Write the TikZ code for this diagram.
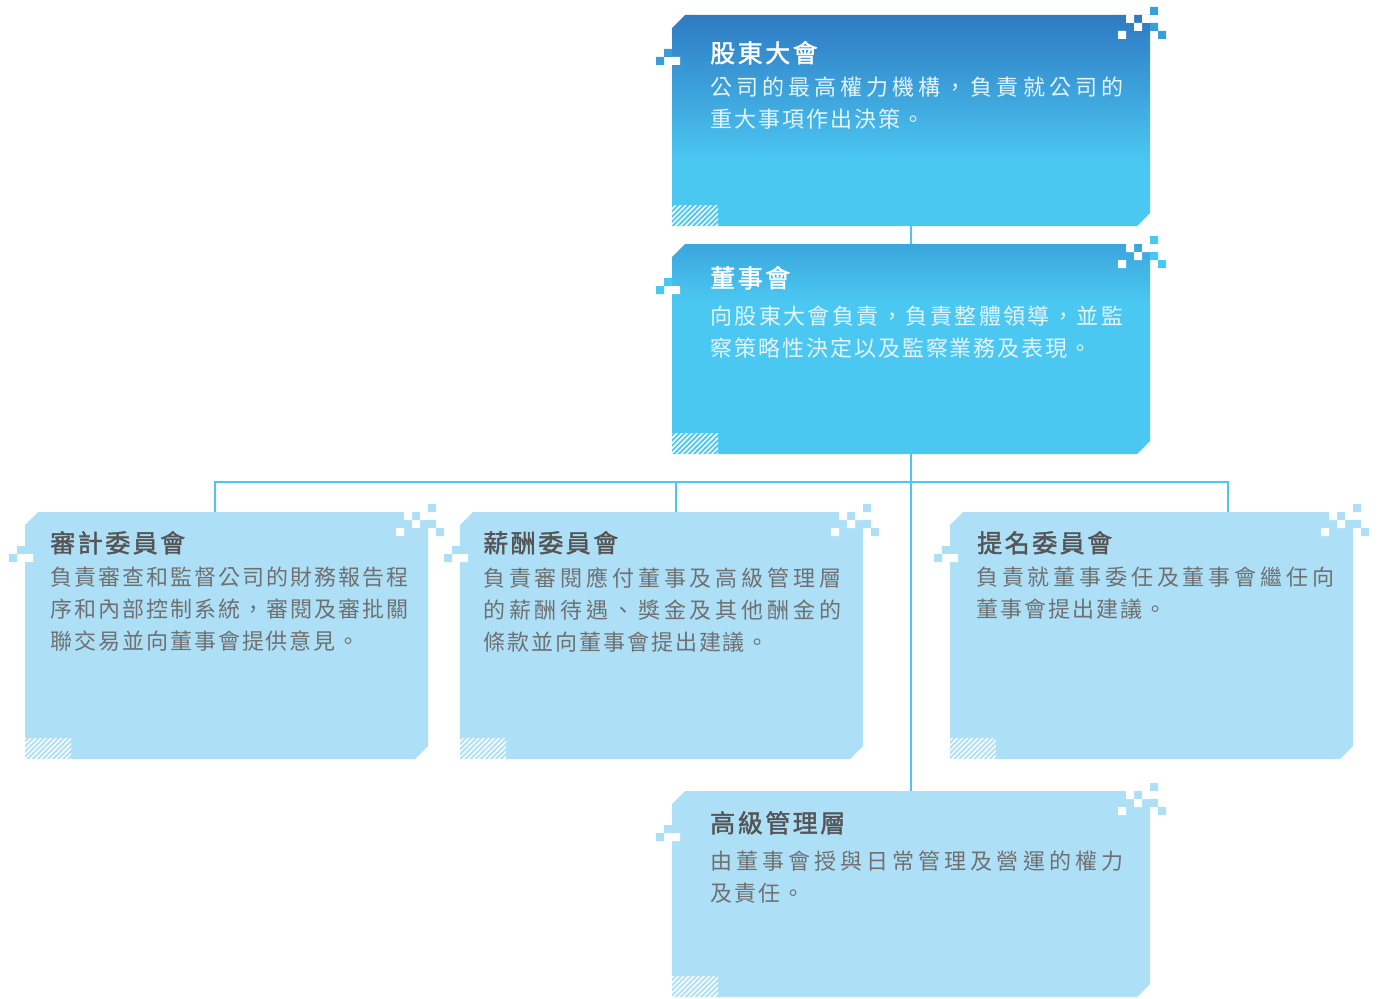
\documentclass[tikz,border=0pt]{standalone}
\usepackage{fontspec}
\setmainfont{Noto Sans CJK TC}
\usetikzlibrary{calc,patterns.meta}
\definecolor{DeepBlue}{RGB}{46,122,194}
\definecolor{MidBlue}{RGB}{59,166,221}
\definecolor{SkyBlue}{RGB}{75,200,242}
\definecolor{PaleBlue}{RGB}{173,224,247}
\definecolor{LinkBlue}{RGB}{77,198,240}
\definecolor{TitleGrey}{RGB}{85,85,85}
\definecolor{BodyGrey}{RGB}{112,112,112}
\definecolor{SoftWhite}{RGB}{228,244,252}
\pgfdeclareverticalshading{gmshade}{100bp}{color(0bp)=(SkyBlue); color(40bp)=(SkyBlue); color(75bp)=(DeepBlue); color(100bp)=(DeepBlue)}
\pgfdeclareverticalshading{boardshade}{100bp}{color(0bp)=(SkyBlue); color(61bp)=(SkyBlue); color(75bp)=(MidBlue); color(100bp)=(MidBlue)}
% a full line, spread over a fixed width
\newcommand\jline[2]{\hbox to #1{\jfirst#2\relax}}
\def\jfirst#1{#1\jrest}
\def\jrest#1{\ifx#1\relax\else\hfil#1\expandafter\jrest\fi}
\tikzset{
  panel/.style={rectangle,anchor=north west,inner sep=0pt,outer sep=0pt},
  link/.style={draw=LinkBlue,line width=2.5pt},
  hatch/.style={pattern={Lines[angle=45,distance=3.6pt,line width=1.5pt]},pattern color=white},
  headline/.style={anchor=north west,inner sep=0pt,
    font=\fontsize{25}{28}\selectfont\addfontfeature{FakeBold=1.6,LetterSpace=10}},
  bodytext/.style={anchor=north west,inner sep=0pt,align=left,
    font=\fontsize{22}{32}\selectfont\addfontfeature{LetterSpace=9}}
}
% pixel bits at the top right and on the left side of a panel
\newcommand\pixels[2]{%
  \fill[white] ($(#1.north east)+(-24,0)$) rectangle ++(8,8)
    ($(#1.north east)+(-8,0)$) rectangle ++(8,8)
    ($(#1.north east)+(-16,8)$) rectangle ++(8,8)
    ($(#1.north east)+(-32,16)$) rectangle ++(8,8)
    ($(#1.north west)+(0,42)$) rectangle ++(8,8);
  \fill[#2] ($(#1.north east)+(0,-8)$) rectangle ++(8,8)
    ($(#1.north east)+(0,8)$) rectangle ++(8,8)
    ($(#1.north east)+(8,16)$) rectangle ++(8,8)
    ($(#1.north west)+(-8,34)$) rectangle ++(8,8)
    ($(#1.north west)+(-16,42)$) rectangle ++(8,8);
}
% name, north west corner, width, height, fill, pixel colour
\newcommand\panel[6]{%
  \node[panel,minimum width=#3,minimum height=#4] (#1) at #2 {};
  \path[#5] ($(#1.north west)+(0,13)$) -- ($(#1.north west)+(13,0)$) -- (#1.north east)
    -- ($(#1.south east)+(0,-13)$) -- ($(#1.south east)+(-13,0)$) -- (#1.south west) -- cycle;
  \fill[hatch] (#1.south west) rectangle ++(46,-21);
  \pixels{#1}{#6}
}

\begin{document}
\begin{tikzpicture}[x=1pt,y=-1pt]
  \useasboundingbox (0,0) rectangle (1383,998);
  % panels
  \panel{gm}{(672,15)}{478pt}{211pt}{shade,shading=gmshade}{DeepBlue!55!SkyBlue}
  \panel{board}{(672,244)}{478pt}{210pt}{shade,shading=boardshade}{SkyBlue}
  \panel{audit}{(25,512)}{403pt}{247pt}{fill=PaleBlue}{PaleBlue}
  \panel{pay}{(460,512)}{403pt}{247pt}{fill=PaleBlue}{PaleBlue}
  \panel{nomination}{(950,512)}{403pt}{247pt}{fill=PaleBlue}{PaleBlue}
  \panel{mgmt}{(672,791)}{478pt}{206pt}{fill=PaleBlue}{PaleBlue}
  % connectors
  \coordinate (split) at (910,482);
  \draw[link] (gm.south) -- (board.north);
  \draw[link] (board.south) -- (mgmt.north);
  \draw[link] ([xshift=190pt]audit.north west) |- (split) -| ([xshift=278pt]nomination.north west);
  \draw[link] ([xshift=216pt]pay.north west) |- (split);
  % texts
  \node[headline,text=white] (gmtitle) at ($(gm.north west)+(38,26)$) {股東大會};
  \node[bodytext,text=SoftWhite] (gmtext) at ($(gm.north west)+(38,62)$)
    {\jline{413pt}{公司的最高權力機構，負責就公司的}\\重大事項作出決策。};
  \node[headline,text=white] (boardtitle) at ($(board.north west)+(38,22)$) {董事會};
  \node[bodytext,text=SoftWhite] (boardtext) at ($(board.north west)+(38,62)$)
    {\jline{413pt}{向股東大會負責，負責整體領導，並監}\\察策略性決定以及監察業務及表現。};
  \node[headline,text=TitleGrey] (audittitle) at ($(audit.north west)+(25,19)$) {審計委員會};
  \node[bodytext,text=BodyGrey] (audittext) at ($(audit.north west)+(25,55)$)
    {\jline{358pt}{負責審查和監督公司的財務報告程}\\\jline{358pt}{序和內部控制系統，審閱及審批關}\\聯交易並向董事會提供意見。};
  \node[headline,text=TitleGrey] (paytitle) at ($(pay.north west)+(23,19)$) {薪酬委員會};
  \node[bodytext,text=BodyGrey] (paytext) at ($(pay.north west)+(23,55)$)
    {\jline{358pt}{負責審閱應付董事及高級管理層}\\\jline{358pt}{的薪酬待遇、獎金及其他酬金的}\\條款並向董事會提出建議。};
  \node[headline,text=TitleGrey] (nominationtitle) at ($(nomination.north west)+(27,19)$) {提名委員會};
  \node[bodytext,text=BodyGrey] (nominationtext) at ($(nomination.north west)+(26,55)$)
    {\jline{358pt}{負責就董事委任及董事會繼任向}\\董事會提出建議。};
  \node[headline,text=TitleGrey] (mgmttitle) at ($(mgmt.north west)+(38,20)$) {高級管理層};
  \node[bodytext,text=BodyGrey] (mgmttext) at ($(mgmt.north west)+(38,60)$)
    {\jline{413pt}{由董事會授與日常管理及營運的權力}\\及責任。};
\end{tikzpicture}
\end{document}
